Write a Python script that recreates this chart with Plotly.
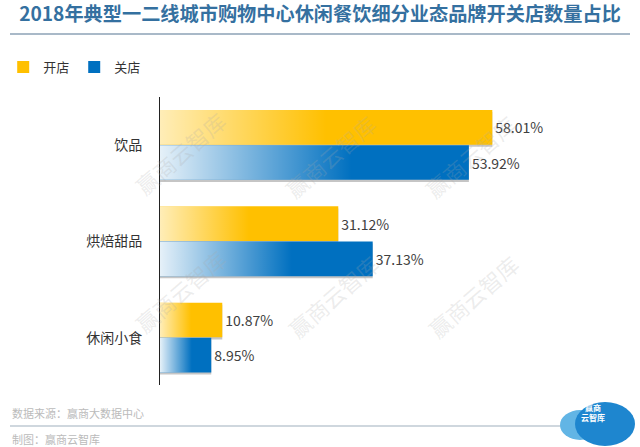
import plotly.graph_objects as go

categories = ["饮品", "烘焙甜品", "休闲小食"]
open_pct = [58.01, 31.12, 10.87]
close_pct = [53.92, 37.13, 8.95]
series_names = ["开店", "关店"]
title_text = "2018年典型一二线城市购物中心休闲餐饮细分业态品牌开关店数量占比"
source_text = "数据来源：赢商大数据中心"
maker_text = "制图：赢商云智库"
watermark_text = "赢商云智库"

FONT = "Noto Sans CJK SC"
YELLOW = "#FFC000"
BLUE = "#0070C0"
W = 0.36
pos = list(range(len(categories)))

fig = go.Figure()

series = [
    (series_names[0], open_pct, YELLOW, -0.365),
    (series_names[1], close_pct, BLUE, 0.0),
]

# shadows
for name, vals, col, off in series:
    fig.add_trace(go.Bar(
        y=pos, x=vals, orientation="h", width=W, offset=off + 0.022,
        marker=dict(color="rgba(90,90,90,0.35)", line=dict(width=0)),
        showlegend=False, hoverinfo="skip",
    ))

# main bars
for name, vals, col, off in series:
    fig.add_trace(go.Bar(
        y=pos, x=vals, orientation="h", width=W, offset=off, name=name,
        marker=dict(color=col, line=dict(width=0)),
        text=[f"{v:.2f}%" for v in vals], textposition="outside",
        textfont=dict(family=FONT, size=14, color="#404040"),
        cliponaxis=False,
    ))

# gradient highlight overlays (white -> transparent from left)
for name, vals, col, off in series:
    stop_frac = 0.5 if col == YELLOW else 0.62
    fade = "rgba(255,255,255,0.72)" if col == YELLOW else "rgba(255,255,255,0.9)"
    for i, v in zip(pos, vals):
        y0, y1 = i + off, i + off + W
        fig.add_trace(go.Scatter(
            x=[0, v, v, 0, 0], y=[y0, y0, y1, y1, y0],
            mode="lines", line=dict(width=0), fill="toself",
            fillgradient=dict(type="horizontal", start=0, stop=v,
                              colorscale=[[0, fade], [stop_frac, "rgba(255,255,255,0)"],
                                          [1, "rgba(255,255,255,0)"]]),
            showlegend=False, hoverinfo="skip",
        ))

fig.update_layout(
    width=640, height=447,
    margin=dict(l=160, r=20, t=97, b=62),
    paper_bgcolor="white", plot_bgcolor="white",
    barmode="overlay",
    font=dict(family=FONT, color="#404040"),
    xaxis=dict(range=[0, 80.3], visible=False, showgrid=False, zeroline=False),
    yaxis=dict(range=[2.49, -0.5], tickvals=pos, ticktext=categories,
               showgrid=False, zeroline=False, showline=True, linecolor="#222222",
               linewidth=1, ticks="", ticklabelstandoff=14,
               tickfont=dict(family=FONT, size=14, color="#333333")),
    legend=dict(orientation="h", xref="container", yref="container",
                x=0.005, y=1 - 67 / 447, xanchor="left", yanchor="middle",
                font=dict(family=FONT, size=13, color="#333333"),
                itemwidth=30, traceorder="normal",
                bgcolor="rgba(0,0,0,0)"),
    title=dict(text=f"<b>{title_text}</b>", x=0.5, xanchor="center", xref="container",
               y=1 - 14 / 447, yanchor="middle", yref="container",
               font=dict(family=FONT, size=19.2, color="#3470A0")),
    showlegend=True,
)

def px_to_paper(xp, yp):
    return (xp - 160) / 460, ((447 - yp) - 62) / 288

shapes = []
def line_px(x0, x1, y, color, width):
    a0, b0 = px_to_paper(x0, y)
    a1, _ = px_to_paper(x1, y)
    shapes.append(dict(type="line", xref="paper", yref="paper", x0=a0, x1=a1, y0=b0, y1=b0,
                       line=dict(color=color, width=width)))

def circle_px(x0, y0, x1, y1, color):
    a0, b0 = px_to_paper(x0, y1)
    a1, b1 = px_to_paper(x1, y0)
    shapes.append(dict(type="circle", xref="paper", yref="paper", x0=a0, x1=a1, y0=b0, y1=b1,
                       fillcolor=color, line=dict(width=0)))

line_px(10, 630, 34, "#8DA2B6", 1.5)
line_px(10, 565, 426, "#9FB0BE", 1.2)
circle_px(560, 410, 600, 440, "#62B5E5")
circle_px(575, 402, 635, 446, "#1E86CF")
fig.update_layout(shapes=shapes)

annotations = []
for (xp, yp) in [(125, 102), (330, 105), (525, 105), (125, 342), (333, 347), (528, 347)]:
    ax, ay = px_to_paper(xp, yp)
    annotations.append(dict(x=ax, y=ay, xref="paper", yref="paper", text=watermark_text,
                            showarrow=False, textangle=-41,
                            font=dict(family=FONT, size=22, color="rgba(170,170,170,0.22)")))
for txt, yp in [(source_text, 413), (maker_text, 439)]:
    ax, ay = px_to_paper(10, yp)
    annotations.append(dict(x=ax, y=ay, xref="paper", yref="paper", text=txt,
                            xanchor="left", yanchor="middle", showarrow=False,
                            font=dict(family=FONT, size=11, color="#BBBBBB")))
ax, ay = px_to_paper(607, 425)
annotations.append(dict(x=ax, y=ay, xref="paper", yref="paper", text="<b>赢商</b><br><b>云智库</b>",
                        showarrow=False, font=dict(family=FONT, size=8, color="white")))
fig.update_layout(annotations=annotations)

fig.write_html("out.html")
